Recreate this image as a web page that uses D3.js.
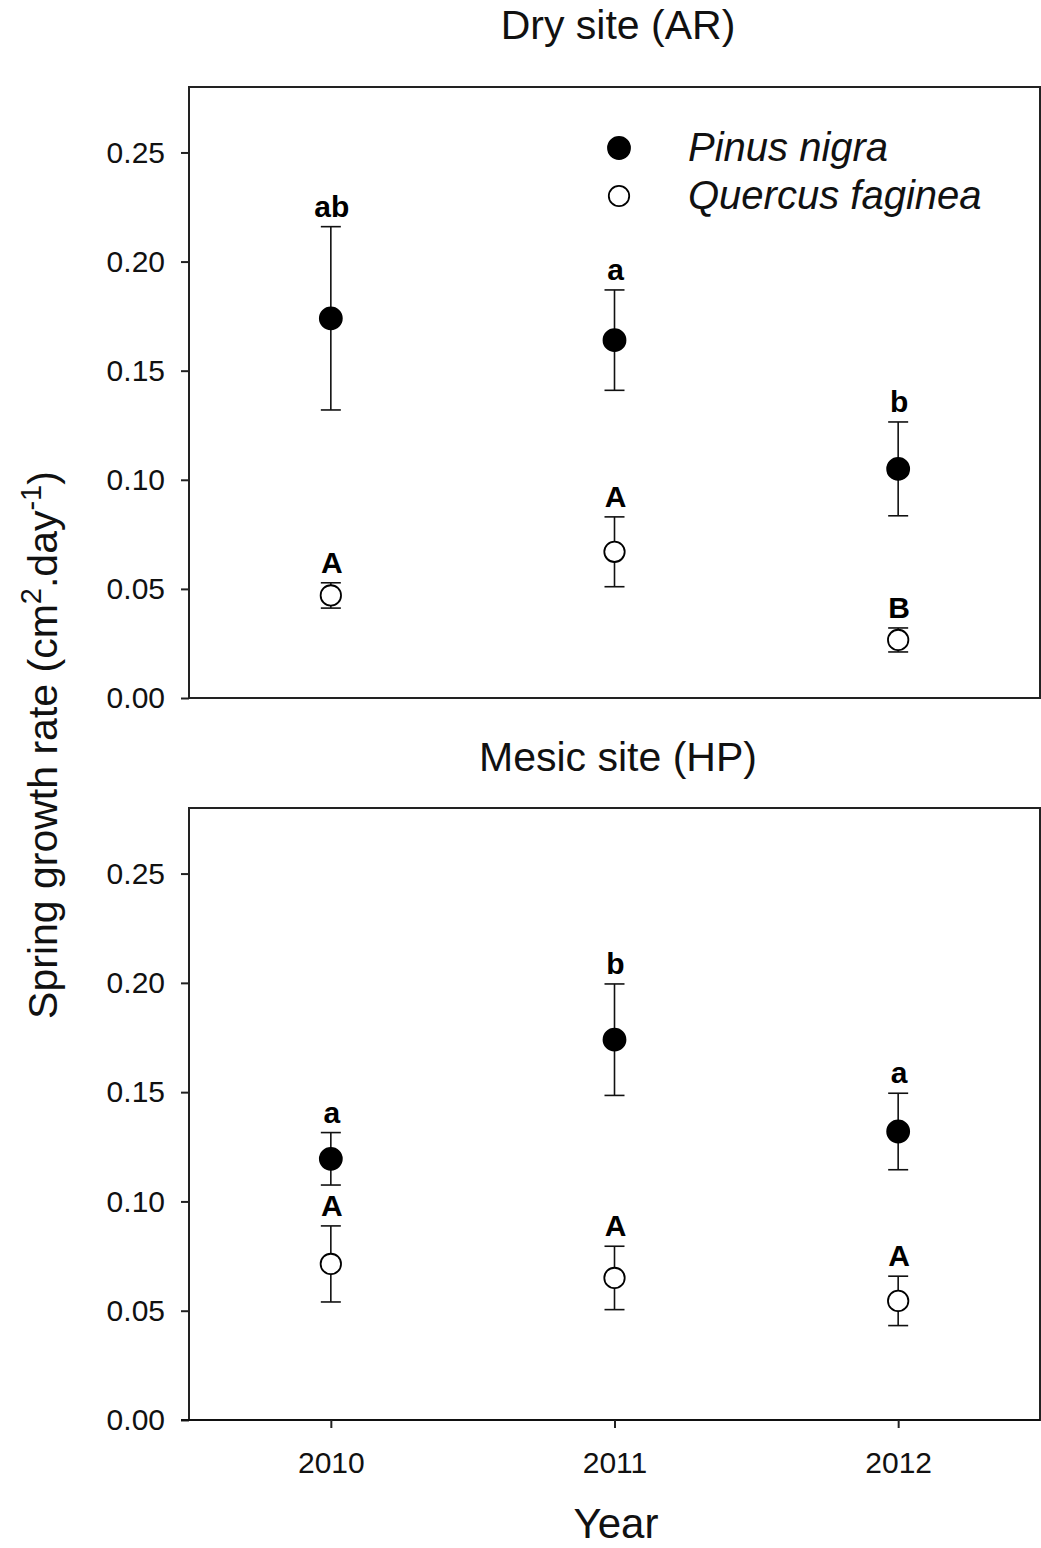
<!DOCTYPE html>
<html>
<head>
<meta charset="utf-8">
<script src="https://cdn.jsdelivr.net/npm/d3@7"></script>
<style>
body{margin:0;background:#fff;font-family:Arial,"Liberation Sans",sans-serif}
</style>
</head>
<body>
<script>
var years = [2010, 2011, 2012]
var yTicks = [0, 0.05, 0.10, 0.15, 0.20, 0.25]
var species = ["Pinus nigra", "Quercus faginea"]

// dry site (AR)
var dryPinus = [0.174, 0.164, 0.105]
var dryPinusErr = [0.042, 0.023, 0.0215]
var dryPinusLab = ["ab", "a", "b"]
var dryQuercus = [0.047, 0.067, 0.0266]
var dryQuercusErr = [0.0058, 0.016, 0.0055]
var dryQuercusLab = ["A", "A", "B"]

// mesic site (HP)
var mesPinus = [0.1195, 0.174, 0.132]
var mesPinusErr = [0.012, 0.0255, 0.0175]
var mesPinusLab = ["a", "b", "a"]
var mesQuercus = [0.0714, 0.065, 0.0545]
var mesQuercusErr = [0.0174, 0.0145, 0.0113]
var mesQuercusLab = ["A", "A", "A"]

var width = 1041, height = 1548
var font = "Arial,'Liberation Sans',sans-serif"
var svg = d3.select("body").append("svg").attr("width", width).attr("height", height)

var x = d3.scaleLinear().domain([2009.5, 2012.5]).range([189, 1040])

function panel(top, bottom, title, titleY, pin, pinE, pinL, que, queE, queL, showX){
  var y = d3.scaleLinear().domain([0, 0.28]).range([bottom, top])
  var g = svg.append("g")
  // frame
  g.append("rect").attr("x", x.range()[0]).attr("y", top)
    .attr("width", x.range()[1] - x.range()[0]).attr("height", bottom - top)
    .attr("fill", "none").attr("stroke", "#222").attr("stroke-width", 2)

  var ya = g.append("g").attr("transform", "translate(" + x.range()[0] + ",0)")
    .call(d3.axisLeft(y).tickValues(yTicks).tickFormat(d3.format(".2f")).tickSize(8).tickPadding(16))
  ya.select(".domain").remove()
  ya.selectAll("line").attr("stroke", "#222").attr("stroke-width", 2)
  ya.selectAll("text").style("font-size", "30px").style("font-family", font).attr("fill", "#111")

  if(showX){
    var xa = g.append("g").attr("transform", "translate(0," + bottom + ")")
      .call(d3.axisBottom(x).tickValues(years).tickFormat(d3.format("d")).tickSize(8).tickPadding(24))
    xa.select(".domain").attr("d", "M181,0H" + x.range()[1]).attr("stroke", "#111").attr("stroke-width", 2)
    xa.selectAll("line").attr("stroke", "#222").attr("stroke-width", 2)
    xa.selectAll("text").style("font-size", "30px").style("font-family", font).attr("fill", "#111")
  }

  g.append("text").attr("x", 618).attr("y", titleY).attr("text-anchor", "middle")
    .style("font-size", "41px").attr("fill", "#111").text(title)

  function series(vals, errs, labs, filled){
    var s = g.append("g")
    s.selectAll(".eb").data(vals).enter().append("line")
      .attr("x1", (d, i) => x(years[i])).attr("x2", (d, i) => x(years[i]))
      .attr("y1", (d, i) => y(d + errs[i])).attr("y2", (d, i) => y(d - errs[i]))
      .attr("stroke", "#111").attr("stroke-width", 1.6)
    ;[1, -1].forEach(function(sg){
      s.selectAll(".cap" + sg).data(vals).enter().append("line")
        .attr("x1", (d, i) => x(years[i]) - 10).attr("x2", (d, i) => x(years[i]) + 10)
        .attr("y1", (d, i) => y(d + sg * errs[i])).attr("y2", (d, i) => y(d + sg * errs[i]))
        .attr("stroke", "#111").attr("stroke-width", 1.6)
    })
    s.selectAll("circle").data(vals).enter().append("circle")
      .attr("cx", (d, i) => x(years[i])).attr("cy", d => y(d))
      .attr("r", filled ? 11 : 10.2)
      .attr("fill", filled ? "#000" : "#fff").attr("stroke", "#000").attr("stroke-width", 1.8)
    s.selectAll("text").data(vals).enter().append("text")
      .attr("x", (d, i) => x(years[i]) + 1).attr("y", (d, i) => y(d + errs[i]) - 10)
      .attr("text-anchor", "middle").style("font-size", "30px").style("font-weight", "bold")
      .attr("fill", "#000").text((d, i) => labs[i])
  }
  series(que, queE, queL, false)
  series(pin, pinE, pinL, true)
  return y
}

panel(87, 698, "Dry site (AR)", 39, dryPinus, dryPinusErr, dryPinusLab, dryQuercus, dryQuercusErr, dryQuercusLab, false)
panel(808, 1420, "Mesic site (HP)", 771, mesPinus, mesPinusErr, mesPinusLab, mesQuercus, mesQuercusErr, mesQuercusLab, true)

// legend
var leg = svg.append("g")
species.forEach(function(s, i){
  leg.append("circle").attr("cx", 619).attr("cy", 148 + i * 48).attr("r", i == 0 ? 11 : 10.2)
    .attr("fill", i == 0 ? "#000" : "#fff").attr("stroke", "#000").attr("stroke-width", 1.8)
  leg.append("text").attr("x", 688).attr("y", 161 + i * 48).style("font-size", "40px")
    .style("font-style", "italic").attr("fill", "#111").text(s)
})

// axis titles
svg.append("text").attr("x", 616).attr("y", 1538).attr("text-anchor", "middle")
  .style("font-size", "42px").attr("fill", "#111").text("Year")

var yl = svg.append("text").attr("transform", "translate(57,745) rotate(-90)")
  .attr("text-anchor", "middle").style("font-size", "41px").attr("fill", "#111")
yl.append("tspan").text("Spring growth rate (cm")
yl.append("tspan").attr("baseline-shift", "super").style("font-size", "29px").text("2")
yl.append("tspan").text(".day")
yl.append("tspan").attr("baseline-shift", "super").style("font-size", "29px").text("-1")
yl.append("tspan").text(")")
</script>
</body>
</html>
